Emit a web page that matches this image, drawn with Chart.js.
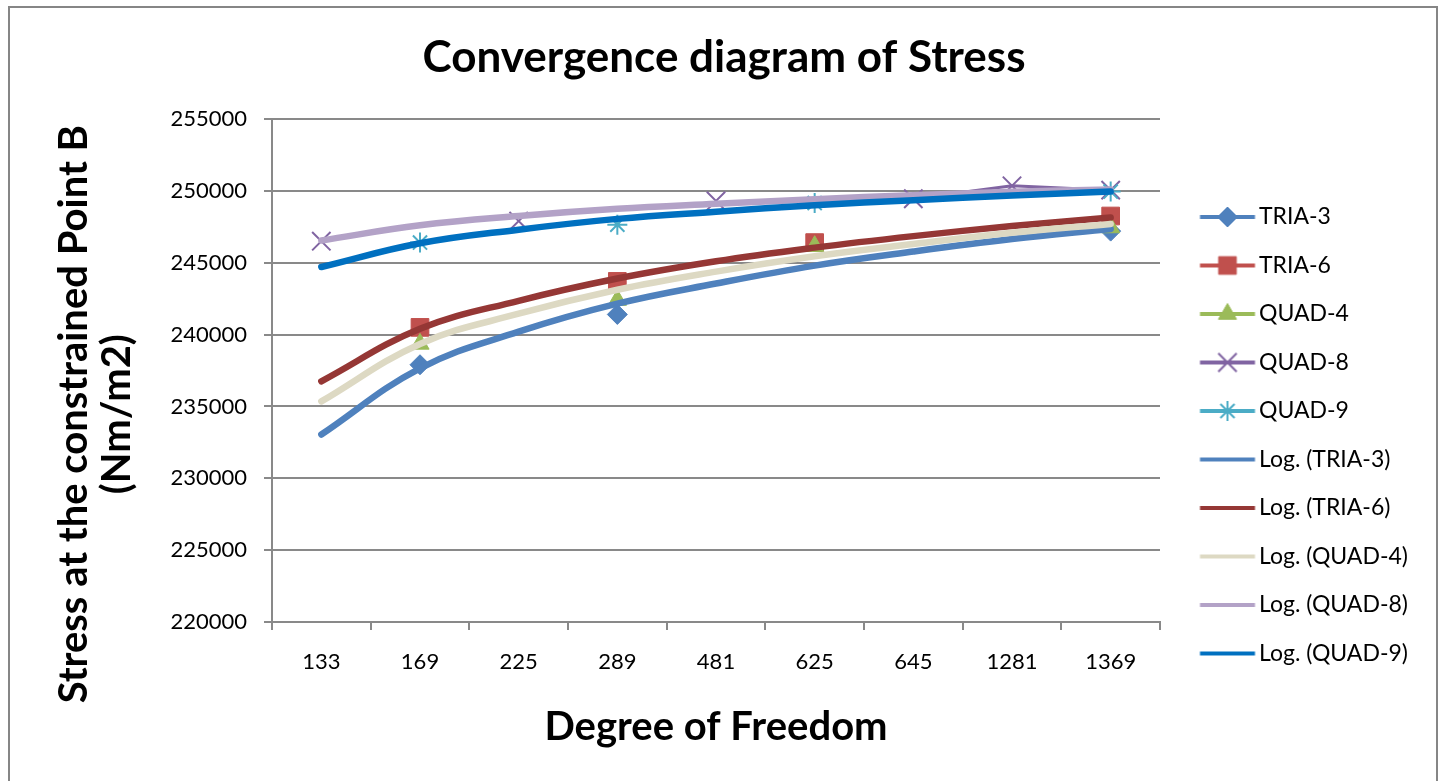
<!DOCTYPE html>
<html>
<head>
<meta charset="utf-8">
<title>Convergence diagram of Stress</title>
<script src="https://cdn.jsdelivr.net/npm/chart.js@4.4.0/dist/chart.umd.min.js"></script>
<style>
  html, body { margin: 0; padding: 0; background: #fff; }
  canvas { display: block; }
</style>
</head>
<body>
<canvas id="stressChart" width="1447" height="781"></canvas>
<script>
// degrees of freedom (category axis)
const dof = ['133', '169', '225', '289', '481', '625', '645', '1281', '1369'];

// computed stress at point B, per element type (blank = no model at that DOF)
const tria3 = [null, 237900, null, 241400, null, null, null, null, 247200];
const tria6 = [null, 240500, null, 243700, null, 246400, null, null, 248250];
const quad4 = [null, 239350, null, 242400, null, 246150, null, null, 247450];
const quad8 = [246500, null, 247900, null, 249300, null, 249450, 250350, 250050];
const quad9 = [null, 246400, null, 247650, null, 249150, null, null, 249950];

// logarithmic trendlines at each category
const logTria3 = [233050, 237650, 240200, 242150, 243550, 244800, 245780, 246650, 247350];
const logTria6 = [236750, 240400, 242350, 243900, 245100, 246050, 246850, 247550, 248150];
const logQuad4 = [235350, 239350, 241450, 243120, 244380, 245450, 246300, 247080, 247700];
const logQuad8 = [246550, 247600, 248250, 248750, 249100, 249420, 249700, 249930, 250100];
const logQuad9 = [244700, 246350, 247300, 248050, 248550, 249000, 249350, 249680, 249950];

// y axis ticks
const yMin = 220000;
const yMax = 255000;
const yStep = 5000;

const seriesNames = ['TRIA-3', 'TRIA-6', 'QUAD-4', 'QUAD-8', 'QUAD-9'];
const seriesData = [tria3, tria6, quad4, quad8, quad9];
const trendData = [logTria3, logTria6, logQuad4, logQuad8, logQuad9];

const seriesColors = ['#4F81BD', '#C0504D', '#9BBB59', '#8064A2', '#4BACC6'];
const trendColors = ['#4F81BD', '#953735', '#DDD9C3', '#B3A2C7', '#0070C0'];
const markerStyles = ['rectRot', 'rect', 'triangle', 'crossRot', 'star'];
const markerRadius = [10, 12.5, 10.5, 13, 10];
const markerBorder = [1, 1, 1, 2, 2];

// ---- layout (px) ----
const W = 1447, H = 781;
const plotLeft = 272, plotRight = 1160, plotTop = 119, plotBottom = 622;
const titleCenterX = 724, titleCenterY = 58;
const yTitleCenter = 412, yTitleX = 74, xTitleY = 727;
const FONT = 'Lato';
const titleSize = 44, axisTitleSize = 40, tickSize = 22, legendSize = 23;
const legendPad = 25.5;
const legendFirstRow = 217;
const legendLineStart = 1200, legendLineEnd = 1255, legendTextX = 1259;

const gridColor = '#898989';

const mctx = document.createElement('canvas').getContext('2d');
const textW = (s, font) => { mctx.font = font; return mctx.measureText(s).width; };

const legendLabels = seriesNames.concat(seriesNames.map(n => 'Log. (' + n + ')'));
const legendTextW = Math.max(...legendLabels.map(s => textW(s, legendSize + 'px ' + FONT)));
const boxX = plotRight + legendPad;
const boxW = legendTextX - legendSize / 2 - boxX;
// Chart.js adds 10px to the width of a vertical legend
const legendWidth = legendPad + boxW + legendSize / 2 + legendTextW + 10;
const padRight = W - plotRight - legendWidth;
const padLeft = 2 * titleCenterX - (W - padRight);
const yAxisWidth = plotLeft - padLeft;
const xAxisHeight = H - plotBottom;

const yTitleLH = 1.08;
const lh = (s, f) => s * (f || 1.2);

// shift y title down (text is centred on the plot by default)
const nbsp = '\u00a0';
const nbspW = textW(nbsp, 'bold ' + axisTitleSize + 'px ' + FONT);
const shiftPad = nbsp.repeat(Math.round(2 * (yTitleCenter - (plotTop + plotBottom) / 2) / nbspW));

// legend icons: line with the marker in the middle
const iconW = 84, iconH = 30;
const iconCenter = boxX + boxW / 2;
const iconLeft = iconCenter - iconW / 2;
function makeIcon(lineColor, markerColor, style, radius, bw) {
  const c = document.createElement('canvas');
  c.width = iconW; c.height = iconH;
  const g = c.getContext('2d');
  g.strokeStyle = lineColor;
  g.lineWidth = 4;
  g.beginPath();
  g.moveTo(legendLineStart - iconLeft, iconH / 2);
  g.lineTo(legendLineEnd - iconLeft, iconH / 2);
  g.stroke();
  if (style) {
    g.fillStyle = markerColor;
    g.strokeStyle = markerColor;
    g.lineWidth = bw;
    Chart.helpers.drawPoint(g, {pointStyle: style, radius: radius, rotation: 0, borderWidth: bw},
      (legendLineStart + legendLineEnd) / 2 - iconLeft, iconH / 2);
  }
  return c;
}

const datasets = [];
seriesNames.forEach((name, i) => {
  datasets.push({
    label: name,
    data: seriesData[i],
    borderColor: seriesColors[i],
    backgroundColor: seriesColors[i],
    borderWidth: 3,
    showLine: true,
    spanGaps: false,
    pointStyle: markerStyles[i],
    pointRadius: markerRadius[i],
    pointBorderWidth: markerBorder[i],
    pointBackgroundColor: seriesColors[i],
    pointBorderColor: seriesColors[i],
    icon: makeIcon(seriesColors[i], seriesColors[i], markerStyles[i], markerRadius[i], markerBorder[i])
  });
});
seriesNames.forEach((name, i) => {
  datasets.push({
    label: 'Log. (' + name + ')',
    data: trendData[i],
    borderColor: trendColors[i],
    backgroundColor: trendColors[i],
    borderWidth: 6.5,
    borderCapStyle: 'round',
    pointRadius: 0,
    tension: 0.4,
    icon: makeIcon(trendColors[i], null, null)
  });
});
// later series are drawn on top
datasets.forEach((d, i) => { d.order = datasets.length - i; });

const framePlugin = {
  id: 'frame',
  beforeDraw(chart) {
    const c = chart.ctx;
    c.save();
    c.fillStyle = '#fff';
    c.fillRect(0, 0, chart.width, chart.height);
    c.strokeStyle = '#868686';
    c.lineWidth = 2;
    c.strokeRect(9, 7, 1428, 800);
    c.restore();
  }
};

Chart.defaults.font.family = FONT;
Chart.defaults.color = '#000';

new Chart(document.getElementById('stressChart'), {
  type: 'line',
  data: { labels: dof, datasets: datasets },
  plugins: [framePlugin],
  options: {
    responsive: false,
    animation: false,
    devicePixelRatio: 1,
    layout: { padding: { left: padLeft, right: padRight, top: 0, bottom: 0 } },
    plugins: {
      tooltip: { enabled: false },
      title: {
        display: true,
        text: 'Convergence diagram of Stress',
        color: '#000',
        font: { size: titleSize, weight: 'bold' },
        padding: { top: titleCenterY - lh(titleSize) / 2, bottom: plotTop - titleCenterY - lh(titleSize) / 2 }
      },
      legend: {
        position: 'right',
        align: 'start',
        title: {
          display: true,
          text: '',
          font: { size: 10 },
          padding: { top: legendFirstRow - legendSize / 2 - legendPad - 12, bottom: 0 }
        },
        labels: {
          usePointStyle: true,
          pointStyleWidth: boxW,
          padding: legendPad,
          color: '#000',
          font: { size: legendSize },
          generateLabels: chart => chart.data.datasets.map((d, i) => ({
            text: d.label,
            pointStyle: d.icon,
            fillStyle: 'transparent',
            strokeStyle: 'transparent',
            lineWidth: 0,
            hidden: false,
            datasetIndex: i,
            fontColor: '#000'
          }))
        }
      }
    },
    scales: {
      x: {
        offset: true,
        grid: { display: true, drawOnChartArea: false, drawTicks: true, tickLength: 8, offset: true, color: gridColor, lineWidth: 2 },
        border: { display: true, color: gridColor, width: 2 },
        ticks: { color: '#000', font: { size: tickSize }, padding: 19, maxRotation: 0 },
        title: {
          display: true,
          text: 'Degree of Freedom',
          color: '#000',
          font: { size: axisTitleSize, weight: 'bold' },
          padding: { top: 0, bottom: H - xTitleY - lh(axisTitleSize) / 2 }
        },
        afterFit: s => { s.height = xAxisHeight; }
      },
      y: {
        min: yMin,
        max: yMax,
        ticks: { stepSize: yStep, color: '#000', font: { size: tickSize }, padding: 17, format: { useGrouping: false } },
        grid: { color: gridColor, lineWidth: 2, tickLength: 8 },
        border: { display: true, color: gridColor, width: 2 },
        title: {
          display: true,
          text: ['Stress at the constrained Point B' + shiftPad, '(Nm/m2)' + shiftPad],
          color: '#000',
          font: { size: axisTitleSize, weight: 'bold', lineHeight: yTitleLH },
          padding: { top: yTitleX - padLeft - lh(axisTitleSize, yTitleLH) / 2, bottom: 0 }
        },
        afterFit: s => { s.width = yAxisWidth; }
      }
    }
  }
});
</script>
</body>
</html>
